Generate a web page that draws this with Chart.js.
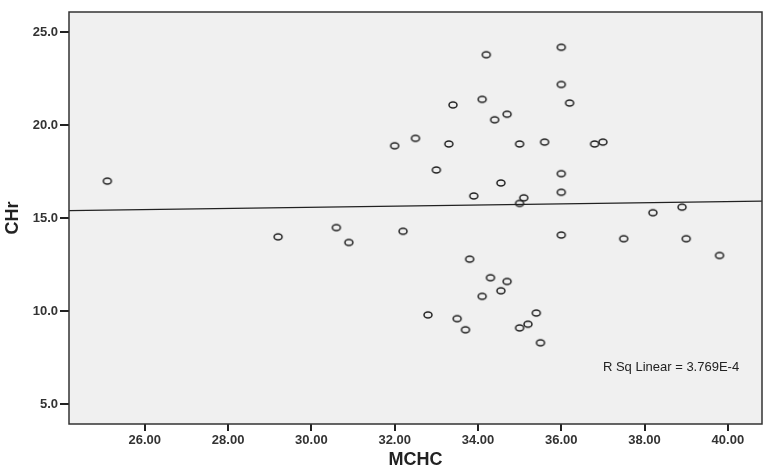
<!DOCTYPE html>
<html>
<head>
<meta charset="utf-8">
<script src="https://cdn.jsdelivr.net/npm/chart.js@4/dist/chart.umd.min.js"></script>
<style>
  html, body { margin: 0; padding: 0; background: #fff; }
  #wrap { width: 767px; height: 469px; position: relative; }
</style>
</head>
<body>
<div id="wrap"><canvas id="chart"></canvas></div>
<script>
// MCHC (x) vs CHr (y)
const mchc = [25.1, 29.2, 30.6, 30.9, 32.2, 32.0, 32.5, 33.0, 33.3, 33.4, 33.9, 34.1, 34.2, 34.4, 34.7,
              34.55, 35.0, 35.6, 36.0, 36.0, 36.2, 36.8, 37.0, 36.0, 36.0, 35.1, 35.0, 38.9, 38.2, 36.0,
              37.5, 39.0, 39.8, 33.8, 34.3, 34.7, 34.55, 34.1, 32.8, 33.5, 33.7, 35.4, 35.2, 35.0, 35.5];
const chr  = [17.0, 14.0, 14.5, 13.7, 14.3, 18.9, 19.3, 17.6, 19.0, 21.1, 16.2, 21.4, 23.8, 20.3, 20.6,
              16.9, 19.0, 19.1, 24.2, 22.2, 21.2, 19.0, 19.1, 17.4, 16.4, 16.1, 15.8, 15.6, 15.3, 14.1,
              13.9, 13.9, 13.0, 12.8, 11.8, 11.6, 11.1, 10.8, 9.8, 9.6, 9.0, 9.9, 9.3, 9.1, 8.3];

const xTicks = [26, 28, 30, 32, 34, 36, 38, 40];
const yTicks = [5, 10, 15, 20, 25];
const xRange = [24.18, 40.82];
const yRange = [3.93, 26.1];

// fit line
const fitSlope = 0.0313;
const fitIntercept = 14.65;
const rSqLabel = "R Sq Linear = 3.769E-4";
const rSqAt = { x: 37.0, y: 7.0 };

const INK = "#222";
const FONT = "'Liberation Sans', Arial, sans-serif";

const points = mchc.map((x, i) => ({ x, y: chr[i] }));
const fitLine = xRange.map(x => ({ x, y: fitIntercept + fitSlope * x }));

// the source image is a bit stretched, so the markers are flat ellipses
function ovalMarker() {
  const c = document.createElement("canvas");
  c.width = 12; c.height = 10;
  const g = c.getContext("2d");
  g.strokeStyle = INK;
  g.lineWidth = 1.5;
  g.beginPath();
  g.ellipse(6, 5, 4.0, 3.0, 0, 0, Math.PI * 2);
  g.stroke();
  return c;
}

// gray plot area, frame and R² note
const plotFrame = {
  id: "plotFrame",
  beforeDatasetsDraw(chart) {
    const { ctx, chartArea: a } = chart;
    ctx.save();
    ctx.fillStyle = "#f0f0f0";
    ctx.fillRect(a.left, a.top, a.right - a.left, a.bottom - a.top);
    ctx.restore();
  },
  afterDatasetsDraw(chart) {
    const { ctx, chartArea: a, scales } = chart;
    ctx.save();
    ctx.strokeStyle = "#333";
    ctx.lineWidth = 1.5;
    ctx.strokeRect(a.left, a.top, a.right - a.left, a.bottom - a.top);
    ctx.fillStyle = INK;
    ctx.font = "13px " + FONT;
    ctx.textAlign = "left";
    ctx.textBaseline = "middle";
    ctx.fillText(rSqLabel, scales.x.getPixelForValue(rSqAt.x), scales.y.getPixelForValue(rSqAt.y));
    ctx.restore();
  },
};

new Chart(document.getElementById("chart"), {
  type: "scatter",
  data: {
    datasets: [
      {
        data: points,
        pointStyle: ovalMarker(),
        pointRadius: 4,
        order: 1,
      },
      {
        type: "line",
        data: fitLine,
        borderColor: INK,
        borderWidth: 1.2,
        pointRadius: 0,
        fill: false,
        order: 2,
      },
    ],
  },
  options: {
    animation: false,
    responsive: true,
    maintainAspectRatio: false,
    layout: { padding: { top: 12, right: 5, left: 0, bottom: 0 } },
    plugins: { legend: { display: false }, tooltip: { enabled: false } },
    scales: {
      x: {
        type: "linear",
        min: xRange[0], max: xRange[1],
        afterBuildTicks: s => { s.ticks = xTicks.map(v => ({ value: v })); },
        afterFit: s => { s.height = 45; },
        border: { display: false },
        grid: { drawOnChartArea: false, tickLength: 7, tickColor: INK, lineWidth: 2 },
        ticks: {
          padding: 2,
          color: "#333",
          font: { family: FONT, size: 13, weight: "bold" },
          callback: v => v.toFixed(2),
        },
        title: {
          display: true, text: "MCHC", color: INK,
          font: { family: FONT, size: 18, weight: "bold" },
          padding: { top: 0, bottom: -2 },
        },
      },
      y: {
        type: "linear",
        min: yRange[0], max: yRange[1],
        afterBuildTicks: s => { s.ticks = yTicks.map(v => ({ value: v })); },
        afterFit: s => { s.width = 69; },
        border: { display: false },
        grid: { drawOnChartArea: false, tickLength: 9, tickColor: INK, lineWidth: 2 },
        ticks: {
          padding: 2,
          color: "#333",
          font: { family: FONT, size: 13, weight: "bold" },
          callback: v => v.toFixed(1),
        },
        title: {
          display: true, text: "CHr", color: INK,
          font: { family: FONT, size: 18, weight: "bold" },
          padding: { top: 2, bottom: 0 },
        },
      },
    },
  },
  plugins: [plotFrame],
});
</script>
</body>
</html>
